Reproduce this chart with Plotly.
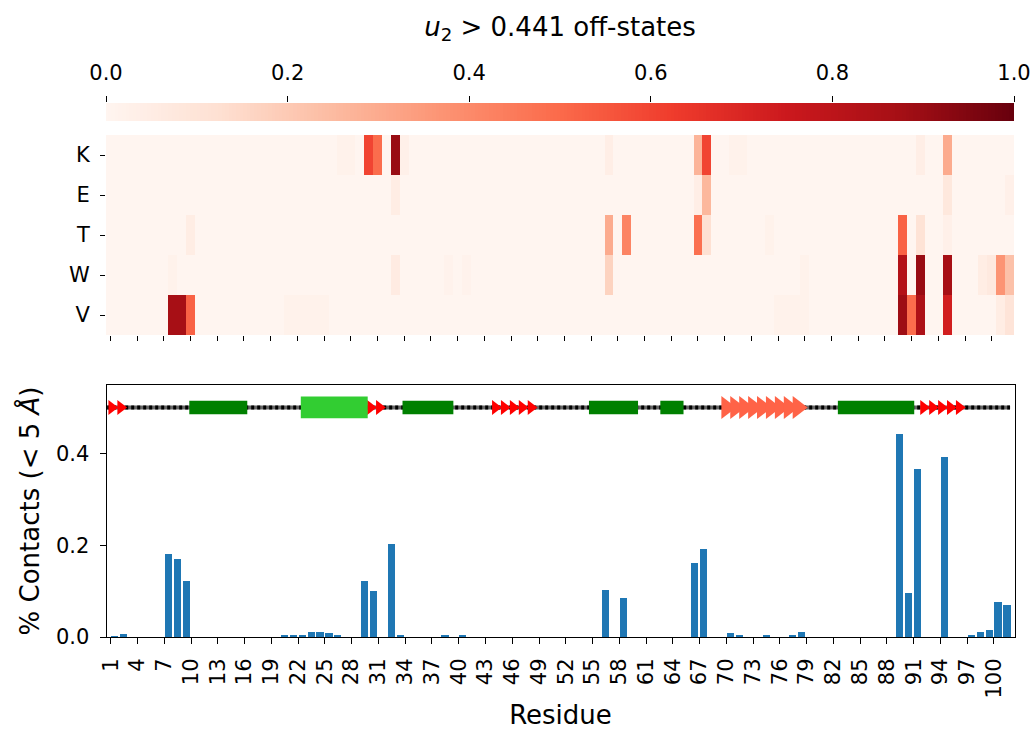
import numpy as np
import plotly.graph_objects as go

# ---------------- data ----------------
rows = ["K", "E", "T", "W", "V"]
n_cols = 102  # heatmap columns (residue index 0..101)

K_cells = {26: 0.02, 27: 0.02, 29: 0.60, 30: 0.49, 32: 0.90, 33: 0.03, 56: 0.04,
           66: 0.27, 67: 0.60, 70: 0.02, 71: 0.02, 91: 0.04, 94: 0.30}
E_cells = {32: 0.05, 66: 0.04, 67: 0.26, 94: 0.08, 101: 0.03}
T_cells = {9: 0.05, 56: 0.30, 58: 0.42, 66: 0.48, 67: 0.12, 74: 0.02, 89: 0.52,
           91: 0.11, 94: 0.03}
W_cells = {7: 0.02, 32: 0.06, 38: 0.015, 40: 0.015, 56: 0.17, 78: 0.02, 89: 0.83,
           91: 0.90, 94: 0.87, 98: 0.05, 99: 0.07, 100: 0.37, 101: 0.23}
V_cells = {7: 0.87, 8: 0.87, 9: 0.52, 20: 0.02, 21: 0.02, 22: 0.02, 23: 0.02, 24: 0.02,
           75: 0.02, 76: 0.02, 77: 0.02, 78: 0.02, 89: 0.89, 90: 0.49, 91: 0.85,
           94: 0.73, 100: 0.05, 101: 0.10}

residues = [1, 2, 7, 8, 9, 20, 21, 22, 23, 24, 25, 26, 29, 30, 32, 33, 38, 40, 56, 58,
            66, 67, 70, 71, 74, 77, 78, 89, 90, 91, 94, 97, 98, 99, 100, 101]
contacts = [0.002, 0.006, 0.18, 0.17, 0.122, 0.005, 0.005, 0.005, 0.01, 0.01, 0.009,
            0.005, 0.122, 0.10, 0.202, 0.005, 0.005, 0.005, 0.103, 0.085, 0.162, 0.192,
            0.009, 0.005, 0.005, 0.005, 0.01, 0.442, 0.095, 0.365, 0.393, 0.005, 0.01,
            0.015, 0.077, 0.07]

bar_ticks = list(range(1, 101, 3))
heat_ticks = list(range(0, 100, 3))
cbar_ticks = [0.0, 0.2, 0.4, 0.6, 0.8, 1.0]

# secondary structure (residue coordinates)
helix_start = [9.8, 33.7, 54.6, 62.6, 82.5]
helix_end = [16.3, 39.4, 60.1, 65.2, 91.06]
lime_helix_start = [22.3]
lime_helix_end = [29.8]
strand_start = [1, 30, 44, 92]
strand_end = [2, 31, 48, 96]
wide_strand_start = [70]
wide_strand_end = [78]
coil_range = [0.6, 101.8]
ss_level = 0.5

reds = ['rgb(255,245,240)', 'rgb(254,224,210)', 'rgb(252,187,161)', 'rgb(252,146,114)',
        'rgb(251,106,74)', 'rgb(239,59,44)', 'rgb(203,24,29)', 'rgb(165,15,21)',
        'rgb(103,0,13)']
colorscale = [[i / (len(reds) - 1), c] for i, c in enumerate(reds)]

# ---------------- build ----------------
cell_tables = [K_cells, E_cells, T_cells, W_cells, V_cells]
Z = np.zeros((len(rows), n_cols))
for r, table in enumerate(cell_tables):
    for c, v in table.items():
        Z[r, c] = v

W, H = 1032, 730
def px(x):
    return x / W
def py(y):
    return 1 - y / H

FONT = "DejaVu Sans"
TICK = 21
LAB = 26

fig = go.Figure()

# colour bar drawn as a gradient heatmap
grad = np.linspace(0, 1, 256)
fig.add_trace(go.Heatmap(z=[grad], x=grad, y=[0], colorscale=colorscale, zmin=0, zmax=1,
                         showscale=False, xaxis="x", yaxis="y", hoverinfo="skip"))

# main heatmap
fig.add_trace(go.Heatmap(z=Z, x=list(range(n_cols)), y=rows, colorscale=colorscale,
                         zmin=0, zmax=1, showscale=False, xaxis="x2", yaxis="y2"))

# bars
fig.add_trace(go.Bar(x=residues, y=contacts, width=0.8, offset=0,
                     marker=dict(color="#1f77b4", line=dict(width=0)),
                     xaxis="x3", yaxis="y3"))

# coil line
fig.add_trace(go.Scatter(x=coil_range, y=[ss_level, ss_level], mode="lines",
                         line=dict(color="#666666", width=4),
                         xaxis="x3", yaxis="y3", hoverinfo="skip"))
fig.add_trace(go.Scatter(x=coil_range, y=[ss_level, ss_level], mode="lines",
                         line=dict(color="black", width=4, dash="3px,3px"),
                         xaxis="x3", yaxis="y3", hoverinfo="skip"))

# strands (arrows)
for s, e in zip(strand_start, strand_end):
    xs = [v + 0.1 for v in range(s, e + 1)]
    fig.add_trace(go.Scatter(x=xs, y=[ss_level] * len(xs), mode="markers",
                             marker=dict(symbol="triangle-right", size=13, color="red",
                                         line=dict(width=0)),
                             xaxis="x3", yaxis="y3", hoverinfo="skip"))
for s, e in zip(wide_strand_start, wide_strand_end):
    xs = list(range(s, e + 1))
    fig.add_trace(go.Scatter(x=xs, y=[ss_level] * len(xs), mode="markers",
                             marker=dict(symbol="triangle-right", size=20, color="tomato",
                                         line=dict(width=0)),
                             xaxis="x3", yaxis="y3", hoverinfo="skip"))

shapes = []
for s, e in zip(helix_start, helix_end):
    shapes.append(dict(type="rect", xref="x3", yref="y3", x0=s, x1=e,
                       y0=ss_level - 0.0145, y1=ss_level + 0.0145,
                       fillcolor="green", line=dict(width=0), layer="above"))
for s, e in zip(lime_helix_start, lime_helix_end):
    shapes.append(dict(type="rect", xref="x3", yref="y3", x0=s, x1=e,
                       y0=ss_level - 0.0237, y1=ss_level + 0.0237,
                       fillcolor="limegreen", line=dict(width=0), layer="above"))

dom_x = [px(106), px(1014)]
fig.update_layout(
    width=W, height=H,
    margin=dict(l=0, r=0, t=0, b=0, autoexpand=False),
    paper_bgcolor="white", plot_bgcolor="white",
    font=dict(family=FONT, size=TICK, color="black"),
    showlegend=False,
    shapes=shapes,
    bargap=0,
    xaxis=dict(domain=dom_x, anchor="y", range=[0, 1], side="top", automargin=False,
               tickvals=cbar_ticks, ticktext=[f"{t:.1f}" for t in cbar_ticks],
               ticks="outside", ticklen=6, tickcolor="black", tickwidth=1,
               ticklabelstandoff=8,
               showgrid=False, zeroline=False, showline=False,
               title=dict(text="<i>u</i><sub>2</sub> > 0.441 off-states",
                          font=dict(size=LAB), standoff=16)),
    yaxis=dict(domain=[py(121), py(103)], anchor="x", visible=False, range=[-0.5, 0.5],
               automargin=False),
    xaxis2=dict(domain=dom_x, anchor="y2", range=[-0.5, n_cols - 0.5], automargin=False,
                tickvals=heat_ticks, showticklabels=False, ticks="outside",
                ticklen=5, tickcolor="black", showgrid=False, zeroline=False,
                showline=False),
    yaxis2=dict(domain=[py(335), py(135)], anchor="x2", autorange="reversed",
                automargin=False,
                ticks="outside", ticklen=5, tickcolor="black", ticklabelstandoff=6,
                showgrid=False, zeroline=False, showline=False),
    xaxis3=dict(domain=[px(106.5), px(1014.5)], anchor="y3", range=[0.52, 102.3],
                automargin=False,
                tickvals=bar_ticks, ticktext=[str(t) for t in bar_ticks],
                tickangle=-90, ticks="outside", ticklen=6, tickcolor="black",
                ticklabelstandoff=6,
                showgrid=False, zeroline=False, showline=True, linecolor="black",
                linewidth=1, mirror=True,
                title=dict(text="Residue", font=dict(size=LAB), standoff=10)),
    yaxis3=dict(domain=[py(637), py(385)], anchor="x3", range=[0, 0.549],
                automargin=False,
                tickvals=[0, 0.2, 0.4], ticktext=["0.0", "0.2", "0.4"],
                ticks="outside", ticklen=6, tickcolor="black", ticklabelstandoff=6,
                showgrid=False, zeroline=False, showline=True, linecolor="black",
                linewidth=1, mirror=True,
                title=dict(text="% Contacts (< 5 <i>Å</i>)", font=dict(size=LAB),
                           standoff=8)),
)

fig.write_html("out.html")
